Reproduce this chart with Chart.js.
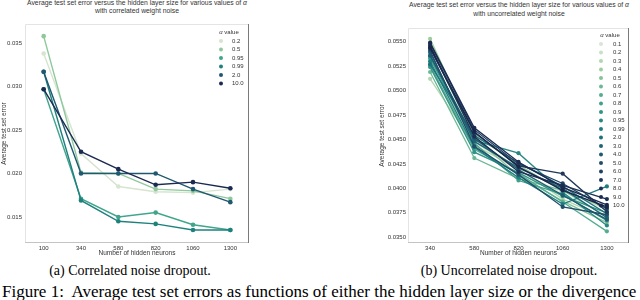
<!DOCTYPE html>
<html>
<head>
<meta charset="utf-8">
<script src="https://cdn.jsdelivr.net/npm/chart.js@4.4.0/dist/chart.umd.min.js"></script>
<style>
  body { margin: 0; width: 640px; height: 300px; overflow: hidden; background: #fff; position: relative; font-family: "Liberation Sans", Arial, sans-serif; }
  canvas { position: absolute; top: 0; }
  .title { position: absolute; font-size: 6.8px; color: #333; text-align: center; white-space: nowrap; }
  .cap { position: absolute; font-family: "Liberation Serif", "Times New Roman", serif; color: #000; white-space: nowrap; }
</style>
</head>
<body>
<div class="title" style="left:0;width:274px;top:-1px;line-height:8px">Average test set error versus the hidden layer size for various values of <i>α</i><br>with correlated weight noise</div>
<div class="title" style="left:369px;width:300px;top:1px;line-height:8.6px">Average test set error versus the hidden layer size for various values of <i>α</i><br>with uncorrelated weight noise</div>
<canvas id="leftChart" width="320" height="262" style="left:0"></canvas>
<canvas id="rightChart" width="320" height="262" style="left:320px"></canvas>
<div class="cap" style="left:0;width:260px;top:263px;font-size:14px;text-align:center">(a) Correlated noise dropout.</div>
<div class="cap" style="left:409px;width:200px;top:263px;font-size:14px;text-align:center">(b) Uncorrelated noise dropout.</div>
<div class="cap" style="left:2px;top:283px;font-size:17px;line-height:17px">Figure 1:&nbsp; Average test set errors as functions of either the hidden layer size or the divergence</div>
<script>
// (a) correlated noise
var leftNeurons = ["100", "340", "580", "820", "1060", "1300"];
var leftAlphas = ["0.2", "0.5", "0.95", "0.99", "2.0", "10.0"];
var leftErrors = [
  [0.0338, 0.0223, 0.0185, 0.0179, 0.0178, 0.0182],
  [0.0358, 0.0201, 0.0200, 0.0182, 0.0180, 0.0171],
  [0.0297, 0.0171, 0.0150, 0.0155, 0.0141, 0.0135],
  [0.0317, 0.0169, 0.0145, 0.0142, 0.0135, 0.0135],
  [0.0317, 0.0200, 0.0200, 0.0200, 0.0182, 0.0167],
  [0.0297, 0.0225, 0.0205, 0.0187, 0.0190, 0.0183]
];
var leftTicks = [0.015, 0.020, 0.025, 0.030, 0.035];

// (b) uncorrelated noise
var rightNeurons = ["340", "580", "820", "1060", "1300"];
var rightAlphas = ["0.1", "0.2", "0.3", "0.4", "0.5", "0.6", "0.7", "0.8", "0.9", "0.95",
                   "0.99", "2.0", "3.0", "4.0", "5.0", "6.0", "7.0", "8.0", "9.0", "10.0"];
var rightErrors = [
  [0.0528, 0.0447, 0.0418, 0.0395, 0.0372],
  [0.0532, 0.0450, 0.0421, 0.0399, 0.0378],
  [0.0512, 0.0444, 0.0420, 0.0389, 0.0369],
  [0.0553, 0.0455, 0.0424, 0.0397, 0.0380],
  [0.0545, 0.0452, 0.0413, 0.0387, 0.0365],
  [0.0519, 0.0431, 0.0410, 0.0398, 0.0371],
  [0.0526, 0.0440, 0.0415, 0.0386, 0.0356],
  [0.0533, 0.0446, 0.0408, 0.0394, 0.0367],
  [0.0524, 0.0437, 0.0416, 0.0392, 0.0375],
  [0.0535, 0.0449, 0.0436, 0.0396, 0.0362],
  [0.0530, 0.0442, 0.0411, 0.0384, 0.0402],
  [0.0527, 0.0454, 0.0426, 0.0402, 0.0374],
  [0.0539, 0.0448, 0.0421, 0.0400, 0.0370],
  [0.0536, 0.0451, 0.0419, 0.0393, 0.0368],
  [0.0541, 0.0443, 0.0414, 0.0381, 0.0373],
  [0.0548, 0.0460, 0.0425, 0.0405, 0.0379],
  [0.0543, 0.0457, 0.0423, 0.0415, 0.0376],
  [0.0546, 0.0453, 0.0417, 0.0403, 0.0389],
  [0.0549, 0.0462, 0.0427, 0.0401, 0.0383],
  [0.0544, 0.0458, 0.0422, 0.0398, 0.0381]
];
var rightTicks = [0.0350, 0.0375, 0.0400, 0.0425, 0.0450, 0.0475, 0.0500, 0.0525, 0.0550];

var leftColors = ["#d6e4d0", "#8ec89b", "#40a58b", "#1e817d", "#1f5870", "#1b2a50"];
var rightColors = ["#dae6d5", "#c9e0c6", "#b2d6b1", "#9dcd9f", "#86c39a", "#6cb896", "#55ad91",
                   "#42a18c", "#329487", "#278883", "#1f7d7f", "#1c727b", "#1d6676", "#1f5a70",
                   "#204e69", "#1f4262", "#1e385b", "#1c3055", "#1b2a50", "#1a254b"];

Chart.defaults.font.family = '"Liberation Sans", Arial, sans-serif';
Chart.defaults.color = "#333";

// light frame around the plot, darker on the right and bottom
var framePlugin = {
  id: "frame",
  beforeDatasetsDraw: function (chart) {
    var a = chart.chartArea, ctx = chart.ctx;
    ctx.save();
    ctx.lineWidth = 1;
    ctx.strokeStyle = "#e4e4e4";
    ctx.beginPath();
    ctx.moveTo(a.left + 0.5, a.bottom); ctx.lineTo(a.left + 0.5, a.top + 0.5); ctx.lineTo(a.right, a.top + 0.5);
    ctx.stroke();
    ctx.strokeStyle = "#c4c4c4";
    ctx.beginPath();
    ctx.moveTo(a.left, a.bottom - 0.5); ctx.lineTo(a.right, a.bottom - 0.5);
    ctx.stroke();
    ctx.strokeStyle = "#7a7a7a";
    ctx.beginPath();
    ctx.moveTo(a.right - 0.5, a.top); ctx.lineTo(a.right - 0.5, a.bottom);
    ctx.stroke();
    ctx.restore();
  }
};

// legend inside the plot, top right, like the seaborn one
var legendPlugin = {
  id: "alphaLegend",
  afterDraw: function (chart, args, opts) {
    var a = chart.chartArea, ctx = chart.ctx;
    ctx.save();
    ctx.textBaseline = "middle";
    ctx.fillStyle = "#333";
    ctx.font = 'italic 6px "Liberation Sans"';
    var w1 = ctx.measureText("α").width;
    ctx.font = '6px "Liberation Sans"';
    var w2 = ctx.measureText(" value").width;
    var tx = a.right - opts.titleX - (w1 + w2) / 2;
    ctx.font = 'italic 6px "Liberation Sans"';
    ctx.textAlign = "left";
    ctx.fillText("α", tx, a.top + opts.titleY);
    ctx.font = '6px "Liberation Sans"';
    ctx.fillText(" value", tx + w1, a.top + opts.titleY);
    chart.data.datasets.forEach(function (ds, i) {
      var y = a.top + opts.first + i * opts.step;
      ctx.beginPath();
      ctx.arc(a.right - opts.markerX, y, 2, 0, 2 * Math.PI);
      ctx.fillStyle = ds.borderColor;
      ctx.fill();
      ctx.fillStyle = "#333";
      ctx.fillText(ds.label, a.right - opts.textX, y);
    });
    ctx.restore();
  }
};

function createChart(id, labels, names, values, colors, ticks, cfg) {
  var datasets = [];
  for (var i = 0; i < values.length; i++) {
    datasets.push({
      label: names[i],
      data: values[i],
      borderColor: colors[i],
      backgroundColor: colors[i],
      pointBackgroundColor: colors[i],
      borderWidth: cfg.lineWidth,
      pointRadius: cfg.pointRadius,
      pointBorderWidth: 0,
      tension: 0,
      order: values.length - i
    });
  }

  var ctx = document.getElementById(id).getContext("2d");
  return new Chart(ctx, {
    type: "line",
    data: { labels: labels, datasets: datasets },
    options: {
      responsive: false,
      animation: false,
      layout: { padding: cfg.padding },
      plugins: {
        legend: { display: false },
        tooltip: { enabled: false },
        alphaLegend: cfg.legend
      },
      scales: {
        x: {
          type: "category",
          offset: true,
          grid: { display: false, drawTicks: false },
          border: { display: false },
          ticks: { font: { size: 6 }, padding: 2, maxRotation: 0 },
          title: { display: true, text: "Number of hidden neurons", font: { size: 6.5 }, padding: 0 },
          afterFit: function (scale) { scale.height = 14; }
        },
        y: {
          type: "linear",
          min: cfg.yMin,
          max: cfg.yMax,
          grid: { display: false, drawTicks: false },
          border: { display: false },
          afterBuildTicks: function (scale) {
            scale.ticks = ticks.map(function (v) { return { value: v }; });
          },
          ticks: {
            font: { size: 6 },
            padding: cfg.tickPad,
            callback: function (v) { return v.toFixed(cfg.decimals); }
          },
          title: { display: true, text: "Average test set error", font: { size: 6.5 }, padding: 0 },
          afterFit: function (scale) { scale.width = cfg.yWidth; }
        }
      }
    },
    plugins: [framePlugin, legendPlugin]
  });
}

createChart("leftChart", leftNeurons, leftAlphas, leftErrors, leftColors, leftTicks, {
  padding: { left: 0, right: 71, top: 24, bottom: 5 },
  yMin: 0.0120, yMax: 0.0372, yWidth: 25, tickPad: 3, decimals: 3,
  lineWidth: 1.4, pointRadius: 2.3,
  legend: { titleX: 20, titleY: 8, first: 17, step: 8.5, markerX: 28, textX: 17 }
});

createChart("rightChart", rightNeurons, rightAlphas, rightErrors, rightColors, rightTicks, {
  padding: { left: 58, right: 11, top: 28, bottom: 5 },
  yMin: 0.03441, yMax: 0.0564, yWidth: 30, tickPad: 2, decimals: 4,
  lineWidth: 1.3, pointRadius: 2.1,
  legend: { titleX: 19, titleY: 7, first: 16, step: 8.5, markerX: 28, textX: 16 }
});
</script>
</body>
</html>
